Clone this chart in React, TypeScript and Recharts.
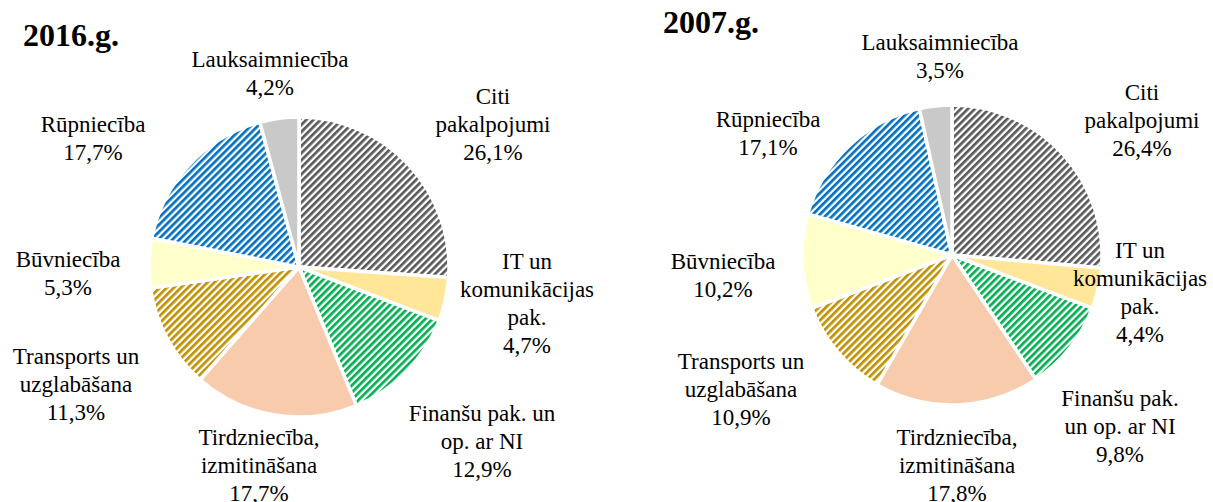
import React from 'react';
import { PieChart, Pie, Cell } from 'recharts';

// sectors, clockwise from 12 o'clock
const sectors2016 = [
  'Citi\npakalpojumi',
  'IT un\nkomunikācijas\npak.',
  'Finanšu pak. un\nop. ar NI',
  'Tirdzniecība,\nizmitināšana',
  'Transports un\nuzglabāšana',
  'Būvniecība',
  'Rūpniecība',
  'Lauksaimniecība',
];
const sectors2007 = [
  'Citi\npakalpojumi',
  'IT un\nkomunikācijas\npak.',
  'Finanšu pak.\nun op. ar NI',
  'Tirdzniecība,\nizmitināšana',
  'Transports un\nuzglabāšana',
  'Būvniecība',
  'Rūpniecība',
  'Lauksaimniecība',
];
const values2016 = [26.1, 4.7, 12.9, 17.7, 11.3, 5.3, 17.7, 4.2];
const values2007 = [26.4, 4.4, 9.8, 17.8, 10.9, 10.2, 17.1, 3.5];

const fills = [
  'url(#hatch-gray)',
  '#FFE699',
  'url(#hatch-green)',
  '#F8CBAD',
  'url(#hatch-gold)',
  '#FFFFCC',
  'url(#hatch-blue)',
  '#C9C9C9',
];

// label block centres relative to pie centre (Excel "best fit" placement)
const labelOffsets2016 = [
  [194, -142], [228, 37], [183, 175], [-40, 199],
  [-223, 118], [-231, 7], [-206, -128], [-29, -193],
];
const labelOffsets2007 = [
  [190, -134], [188, 38], [168, 172], [5, 211],
  [-211, 135], [-229, 21], [-184, -121], [-12, -198],
];

const W = 1213;
const H = 502;
const R = 150;
const FONT = 'Liberation Serif, Tinos, Nimbus Roman, DejaVu Serif, serif';
const LINE = 28;

const left = { cx: 299, cy: 267 };
const right = { cx: 952, cy: 255 };

const fmt = (v: number) => v.toFixed(1).replace('.', ',') + '%';

const makeData = (names: string[], vals: number[]) =>
  names.map((name, i) => ({ name, value: vals[i] }));

const data2016 = makeData(sectors2016, values2016);
const data2007 = makeData(sectors2007, values2007);

function Labels({
  data,
  center,
  offsets,
}: {
  data: { name: string; value: number }[];
  center: { cx: number; cy: number };
  offsets: number[][];
}) {
  return (
    <>
      {data.map((d, i) => {
        const lines = [...d.name.split('\n'), fmt(d.value)];
        return (
          <div
            key={d.name}
            style={{
              position: 'absolute',
              left: center.cx + offsets[i][0],
              top: center.cy + offsets[i][1],
              transform: 'translate(-50%, -50%)',
              textAlign: 'center',
              whiteSpace: 'nowrap',
              fontFamily: FONT,
              fontWeight: 400,
              fontSize: 23,
              lineHeight: LINE + 'px',
              color: '#000',
            }}
          >
            {lines.map((l, k) => (
              <div key={k}>{l}</div>
            ))}
          </div>
        );
      })}
    </>
  );
}

const hatch = (id: string, color: string) => (
  <pattern
    id={id}
    patternUnits="userSpaceOnUse"
    width={5}
    height={5}
    patternTransform="rotate(45)"
  >
    <rect width={5} height={5} fill="#fff" />
    <rect width={2.7} height={5} fill={color} />
  </pattern>
);

const titleStyle: React.CSSProperties = {
  position: 'absolute',
  fontFamily: FONT,
  fontWeight: 'bold',
  fontSize: 32,
  lineHeight: '32px',
  color: '#000',
};

export default function App() {
  return (
    <div
      style={{
        position: 'absolute',
        left: 0,
        top: 0,
        width: W,
        height: H,
        background: '#fff',
        overflow: 'hidden',
      }}
    >
      <PieChart width={W} height={H} margin={{ top: 0, right: 0, bottom: 0, left: 0 }}>
        <defs>
          {hatch('hatch-gray', '#595959')}
          {hatch('hatch-blue', '#0070C0')}
          {hatch('hatch-green', '#00B050')}
          {hatch('hatch-gold', '#BF9000')}
        </defs>
        <Pie
          data={data2016}
          dataKey="value"
          nameKey="name"
          cx={left.cx}
          cy={left.cy}
          outerRadius={R}
          startAngle={90}
          endAngle={-270}
          stroke="#fff"
          strokeWidth={3.5}
          label={false}
          labelLine={false}
          isAnimationActive={false}
        >
          {data2016.map((d, i) => (
            <Cell key={d.name} fill={fills[i]} />
          ))}
        </Pie>
        <Pie
          data={data2007}
          dataKey="value"
          nameKey="name"
          cx={right.cx}
          cy={right.cy}
          outerRadius={R}
          startAngle={90}
          endAngle={-270}
          stroke="#fff"
          strokeWidth={3.5}
          label={false}
          labelLine={false}
          isAnimationActive={false}
        >
          {data2007.map((d, i) => (
            <Cell key={d.name} fill={fills[i]} />
          ))}
        </Pie>
      </PieChart>
      <Labels data={data2016} center={left} offsets={labelOffsets2016} />
      <Labels data={data2007} center={right} offsets={labelOffsets2007} />
      <div style={{ ...titleStyle, left: 23, top: 19 }}>2016.g.</div>
      <div style={{ ...titleStyle, left: 663, top: 6 }}>2007.g.</div>
    </div>
  );
}
